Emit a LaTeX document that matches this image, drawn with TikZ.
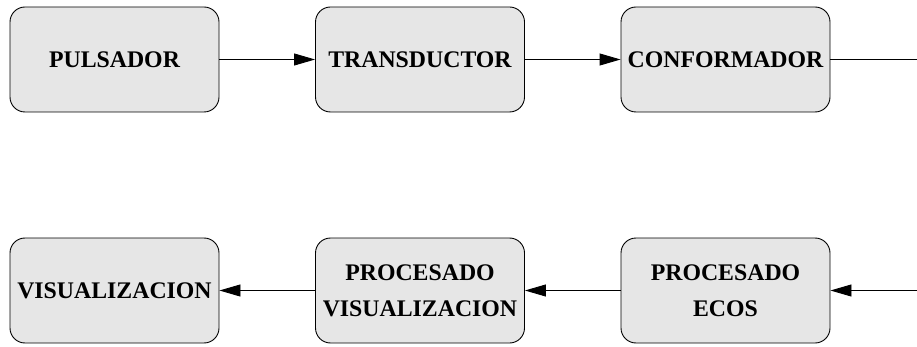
\documentclass[tikz,border=0pt]{standalone}
\usepackage{fontspec}
\setmainfont{Liberation Serif}
\usetikzlibrary{arrows.meta}
\definecolor{boxfill}{HTML}{E6E6E6}
\tikzset{
  blockbox/.style={draw=black, fill=boxfill, rounded corners=15pt, minimum width=209pt, minimum height=105pt,
    line width=0.9pt, align=center, inner sep=0pt, font=\fontsize{23.8}{36}\selectfont\bfseries},
  flow/.style={line width=0.9pt, -{Triangle[length=21pt,width=12pt]}},
  plain/.style={line width=0.9pt}
}
\begin{document}
\begin{tikzpicture}[x=1pt,y=-1pt]
\useasboundingbox (0,0) rectangle (917,347);
\node[blockbox] (pul) at (114.5,59.5) {PULSADOR};
\node[blockbox] (tra) at (420,59.5) {TRANSDUCTOR};
\node[blockbox] (con) at (725.5,59.5) {CONFORMADOR};
\node[blockbox] (vis) at (114.5,290.5) {VISUALIZACION};
\node[blockbox] (pv) at (420,290.5) {PROCESADO\\VISUALIZACION};
\node[blockbox] (pe) at (725.5,290.5) {PROCESADO\\ECOS};
\coordinate (outr) at (917,59.5);
\coordinate (inr) at (917,290.5);
\draw[flow] (pul) -- (tra);
\draw[flow] (tra) -- (con);
\draw[plain] (con) -- (outr);
\draw[flow] (inr) -- (pe);
\draw[flow] (pe) -- (pv);
\draw[flow] (pv) -- (vis);
\end{tikzpicture}
\end{document}
